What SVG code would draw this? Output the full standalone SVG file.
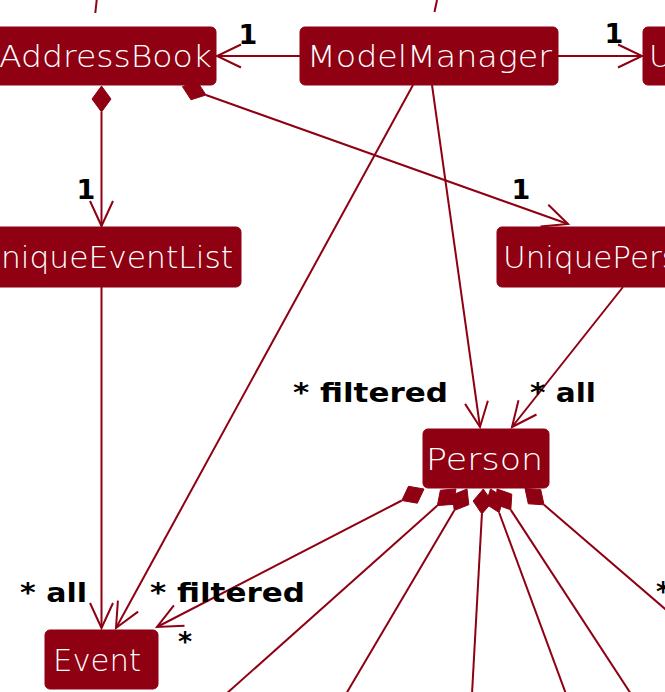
<svg xmlns="http://www.w3.org/2000/svg" width="665" height="692" viewBox="0 0 665 692">
<style>
.box{fill:#8E0012;stroke:#8E0012;stroke-width:1}
.name{font-family:"DejaVu Sans","Liberation Sans",sans-serif;font-size:31px;fill:#FFFFFF;font-weight:300}
.lbl{font-family:"DejaVu Sans","Liberation Sans",sans-serif;font-size:27px;font-weight:bold;fill:#000000}
.ln{fill:none;stroke:#8E0012;stroke-width:2}
.dia{fill:#8E0012;stroke:#8E0012;stroke-width:1}
</style>
<rect width="665" height="692" fill="#FFFFFF"/>
<g id="connectors">
  <path class="ln" d="M96.7,0 L95.3,13"/>
  <path class="ln" d="M437,0 L434.5,12"/>
  <!-- ModelManager -> AddressBook -->
  <path class="ln" d="M300,56 L217,56"/>
  <path class="ln" d="M241,44.5 L217,56 L241,67.5"/>
  <!-- ModelManager -> UserPrefs -->
  <path class="ln" d="M558,56 L642,56"/>
  <path class="ln" d="M618,44.5 L642,56 L618,67.5"/>
  <!-- AddressBook -> UniqueEventList -->
  <polygon class="dia" points="101.5,86 111,99 101.5,112 92,99"/>
  <path class="ln" d="M101.5,112 L101.5,226"/>
  <path class="ln" d="M90,201 L101.5,226 L113,201"/>
  <!-- AddressBook -> UniquePersonList -->
  <polygon class="dia" points="182.45,86.6 191,99.75 206,95 197.4,81.85"/>
  <path class="ln" d="M206,95 L568,224"/>
  <path class="ln" d="M540.5,226.4 L568,224 L548.3,204.8"/>
  <!-- ModelManager -> Event -->
  <path class="ln" d="M413,85 L116,628"/>
  <path class="ln" d="M117.9,600.6 L116,628 L138.1,611.6"/>
  <!-- ModelManager -> Person -->
  <path class="ln" d="M432,85 L480,427"/>
  <path class="ln" d="M465.1,403.9 L480,427 L487.9,400.7"/>
  <!-- UniquePersonList -> Person -->
  <path class="ln" d="M623,287 L512,427"/>
  <path class="ln" d="M518.5,400.3 L512,427 L536.5,414.5"/>
  <!-- UniqueEventList -> Event -->
  <path class="ln" d="M101.5,287 L101.5,628"/>
  <path class="ln" d="M90,603 L101.5,628 L113,603"/>
  <!-- Person -> Event (composition) -->
  <polygon class="dia" points="424,489 408.5,486.3 401.8,500.5 417.3,503.2"/>
  <path class="ln" d="M401.8,500.5 L157,627"/>
  <path class="ln" d="M173.9,605.3 L157,627 L184.5,625.7"/>
  <!-- Person compositions downwards -->
  <polygon class="dia" points="456,489 440.4,490.2 437.35,505.6 453,504.4"/>
  <path class="ln" d="M437.35,505.6 L226,694"/>
  <polygon class="dia" points="467,489 452.4,494.95 454.25,510.5 468.8,504.65"/>
  <path class="ln" d="M454.25,510.5 L346,694"/>
  <polygon class="dia" points="483.3,489 473.1,501 481.9,514 492.1,502"/>
  <path class="ln" d="M481.9,514 L472,694"/>
  <polygon class="dia" points="490.5,489 485.9,504 499.1,512.5 503.7,497.4"/>
  <path class="ln" d="M499.1,512.5 L566,694"/>
  <polygon class="dia" points="497,489 496,504.6 510.8,509.85 511.8,494.2"/>
  <path class="ln" d="M510.8,509.85 L631,694"/>
  <polygon class="dia" points="525,488.5 528.3,503.8 544,504.8 540.7,489.4"/>
  <path class="ln" d="M544,504.8 L680,621.7"/>
</g>
<g id="AddressBook">
  <rect class="box" x="-8" y="27" width="224" height="58" rx="5"/>
  <text class="name" x="-1" y="67" textLength="213" lengthAdjust="spacingAndGlyphs">AddressBook</text>
</g>
<g id="ModelManager">
  <rect class="box" x="300" y="27" width="258" height="58" rx="5"/>
  <text class="name" x="307" y="67" textLength="245" lengthAdjust="spacingAndGlyphs">ModelManager</text>
</g>
<g id="UserPrefs">
  <rect class="box" x="643" y="27" width="150" height="58" rx="5"/>
  <text class="name" x="649" y="67">UserPrefs</text>
</g>
<g id="UniqueEventList">
  <rect class="box" x="-40" y="227" width="281" height="60" rx="5"/>
  <text class="name" x="-22" y="267.5" textLength="255" lengthAdjust="spacingAndGlyphs">UniqueEventList</text>
</g>
<g id="UniquePersonList">
  <rect class="box" x="497" y="227" width="280" height="60" rx="5"/>
  <text class="name" x="503" y="267.5">UniquePersonList</text>
</g>
<g id="Person">
  <rect class="box" x="423" y="429" width="126" height="59" rx="5"/>
  <text class="name" x="426" y="470" textLength="117" lengthAdjust="spacingAndGlyphs">Person</text>
</g>
<g id="Event">
  <rect class="box" x="45" y="630" width="113" height="59" rx="5"/>
  <text class="name" x="53" y="671" textLength="88" lengthAdjust="spacingAndGlyphs">Event</text>
</g>
<g id="labels">
  <text class="lbl" x="248" y="44" text-anchor="middle">1</text>
  <text class="lbl" x="614" y="43" text-anchor="middle">1</text>
  <text class="lbl" x="86" y="199" text-anchor="middle">1</text>
  <text class="lbl" x="521" y="199" text-anchor="middle">1</text>
  <text class="lbl" x="293" y="402" textLength="155" lengthAdjust="spacingAndGlyphs">* filtered</text>
  <text class="lbl" x="530" y="402" textLength="66" lengthAdjust="spacingAndGlyphs">* all</text>
  <text class="lbl" x="20" y="602" textLength="67" lengthAdjust="spacingAndGlyphs">* all</text>
  <text class="lbl" x="150" y="602" textLength="155" lengthAdjust="spacingAndGlyphs">* filtered</text>
  <text class="lbl" x="185" y="651" text-anchor="middle">*</text>
  <text class="lbl" x="656" y="601">*</text>
</g>
</svg>
